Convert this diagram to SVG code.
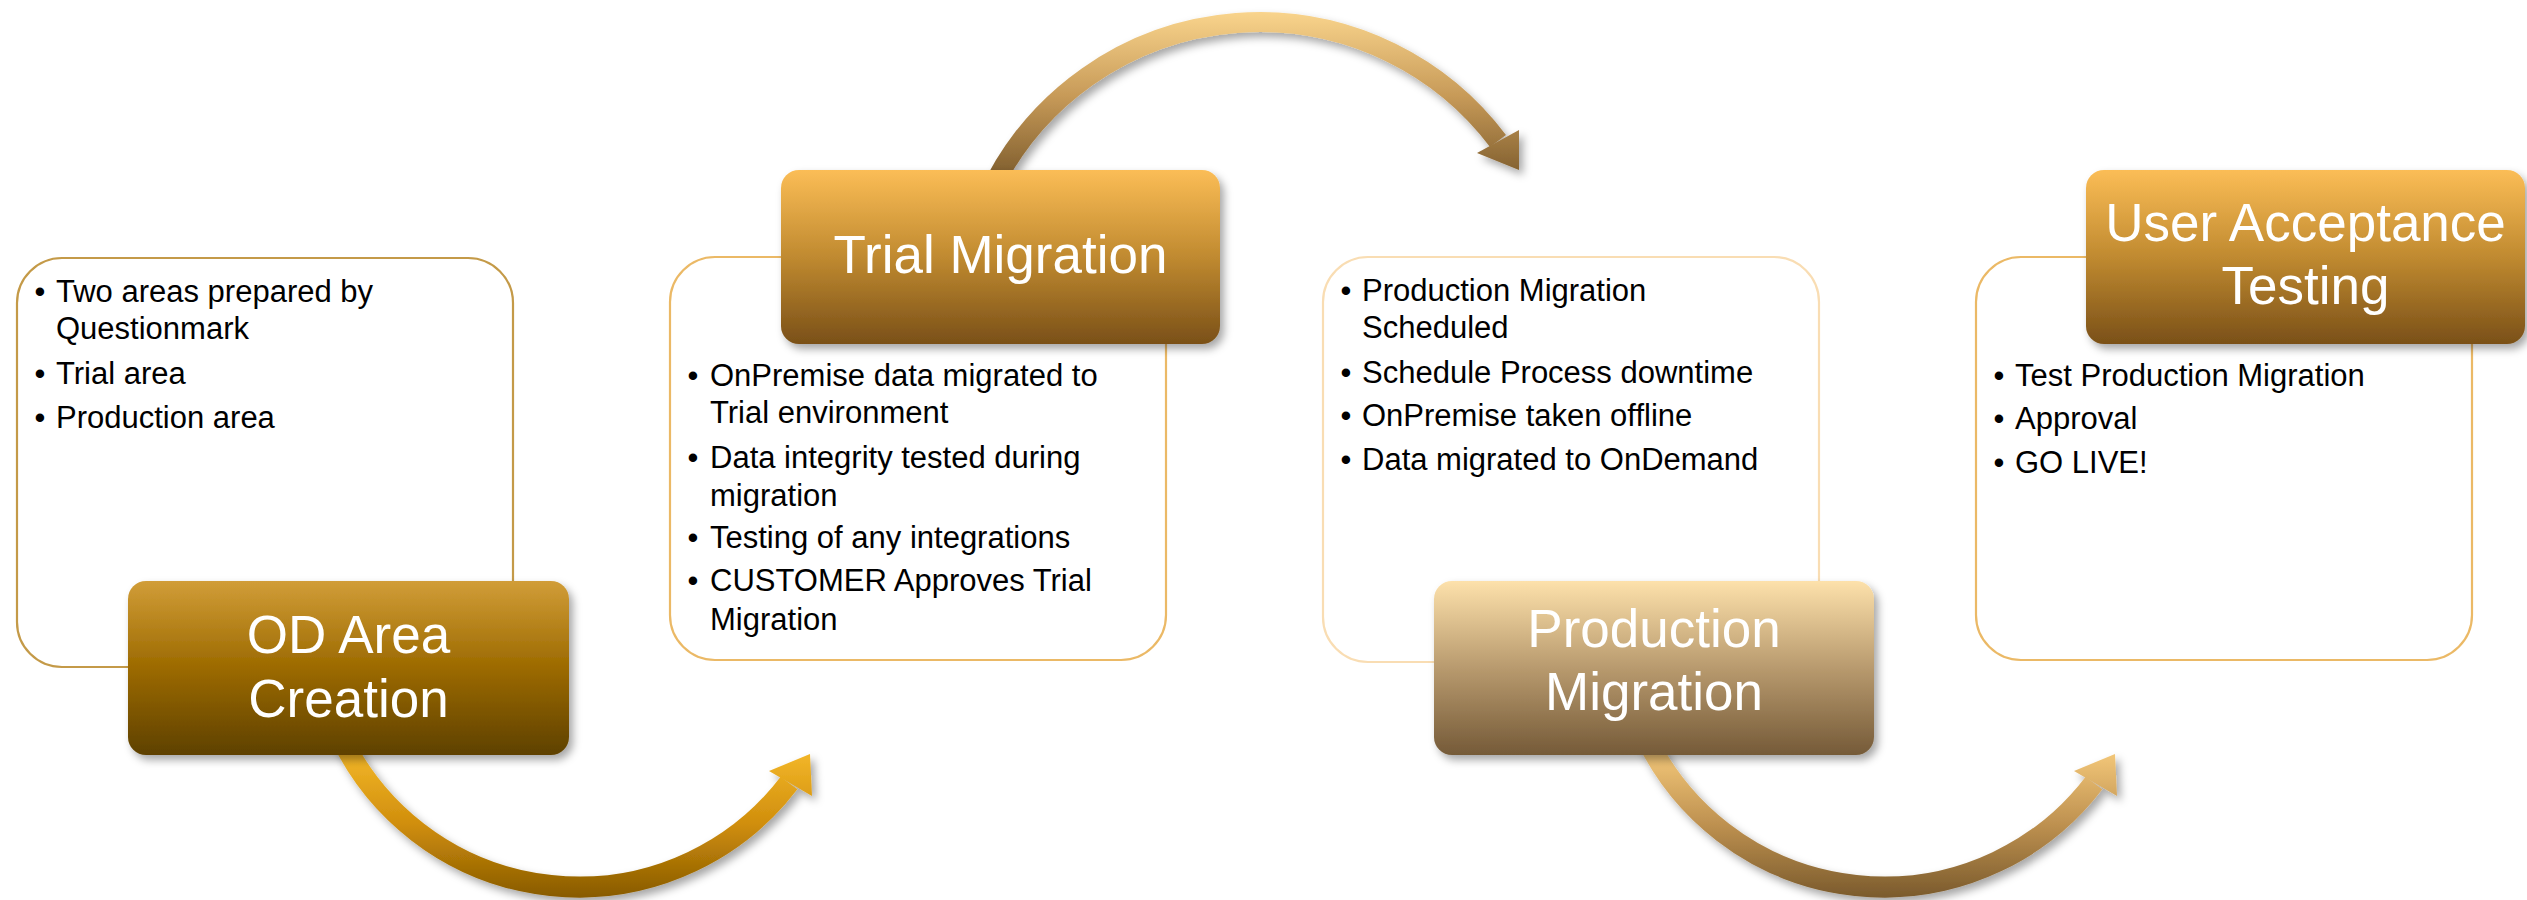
<svg xmlns="http://www.w3.org/2000/svg" width="2527" height="900" viewBox="0 0 2527 900">
<defs>
<style>
.body{font-family:"Liberation Sans",Arial,sans-serif;font-size:31px;fill:#000}
.bul{font-family:"Liberation Sans",Arial,sans-serif;font-size:31px;fill:#000;text-anchor:middle}
.title{font-family:"Liberation Sans",Arial,sans-serif;font-size:53px;fill:#fff;text-anchor:middle}
.panel{fill:#fff;stroke-width:2.2}
.band{fill:none}
</style>
<filter id="sh" x="-10%" y="-10%" width="130%" height="140%">
<feDropShadow dx="4" dy="5" stdDeviation="4" flood-color="#000" flood-opacity="0.35"/>
</filter>
<linearGradient id="gOD" x1="0" y1="0" x2="0" y2="1">
<stop offset="0" stop-color="#D19D38"/><stop offset="0.5" stop-color="#9C6A00"/><stop offset="1" stop-color="#5E4100"/>
</linearGradient>
<linearGradient id="gTR" x1="0" y1="0" x2="0" y2="1">
<stop offset="0" stop-color="#FBBD56"/><stop offset="0.5" stop-color="#C08A30"/><stop offset="1" stop-color="#7A5018"/>
</linearGradient>
<linearGradient id="gPR" x1="0" y1="0" x2="0" y2="1">
<stop offset="0" stop-color="#FDE1AB"/><stop offset="0.5" stop-color="#B89A6E"/><stop offset="1" stop-color="#755A38"/>
</linearGradient>
<linearGradient id="a1" gradientUnits="userSpaceOnUse" x1="0" y1="750" x2="0" y2="898">
<stop offset="0" stop-color="#F4B82A"/><stop offset="0.5" stop-color="#D08E0C"/><stop offset="1" stop-color="#875A00"/>
</linearGradient>
<linearGradient id="a2" gradientUnits="userSpaceOnUse" x1="0" y1="12" x2="0" y2="180">
<stop offset="0" stop-color="#F9D48C"/><stop offset="0.5" stop-color="#C79A58"/><stop offset="1" stop-color="#7C5B2C"/>
</linearGradient>
<linearGradient id="a3" gradientUnits="userSpaceOnUse" x1="0" y1="750" x2="0" y2="898">
<stop offset="0" stop-color="#F5C97A"/><stop offset="0.5" stop-color="#BE9150"/><stop offset="1" stop-color="#7A5A2C"/>
</linearGradient>
</defs>
<rect width="2527" height="900" fill="#fff"/>

<g id="connectors" filter="url(#sh)">
<g id="arrow1">
<path class="band" d="M339.7,734.6 A264,264 0 0 0 789,783" stroke="url(#a1)" stroke-width="21"/>
<polygon points="769,771 810,754 812,796" fill="url(#a1)"/>
</g>
<g id="arrow2">
<path class="band" d="M995.9,180.4 A298.6,298.6 0 0 1 1498,141" stroke="url(#a2)" stroke-width="20"/>
<polygon points="1477,153 1519,170 1519,130" fill="url(#a2)"/>
</g>
<g id="arrow3">
<path class="band" d="M1644.7,734.6 A264,264 0 0 0 2094,783" stroke="url(#a3)" stroke-width="21"/>
<polygon points="2074,771 2115,754 2117,796" fill="url(#a3)"/>
</g>
</g>

<g id="node-od-area-creation">
<rect class="panel" x="17" y="258" width="496" height="409" rx="45" stroke="#C49A48"/>
<text class="bul" x="40" y="302">•</text><text class="body" x="56" y="302">Two areas prepared by</text>
<text class="body" x="56" y="339">Questionmark</text>
<text class="bul" x="40" y="384">•</text><text class="body" x="56" y="384">Trial area</text>
<text class="bul" x="40" y="428">•</text><text class="body" x="56" y="428">Production area</text>
<rect x="128" y="581" width="441" height="174" rx="18" fill="url(#gOD)" filter="url(#sh)"/>
<text class="title" x="348.5" y="653">OD Area</text>
<text class="title" x="348.5" y="717">Creation</text>
</g>

<g id="node-trial-migration">
<rect class="panel" x="670" y="257" width="496" height="403" rx="45" stroke="#EBB966"/>
<text class="bul" x="693" y="386">•</text><text class="body" x="710" y="386">OnPremise data migrated to</text>
<text class="body" x="710" y="423">Trial environment</text>
<text class="bul" x="693" y="468">•</text><text class="body" x="710" y="468">Data integrity tested during</text>
<text class="body" x="710" y="506">migration</text>
<text class="bul" x="693" y="548">•</text><text class="body" x="710" y="548">Testing of any integrations</text>
<text class="bul" x="693" y="591">•</text><text class="body" x="710" y="591">CUSTOMER Approves Trial</text>
<text class="body" x="710" y="630">Migration</text>
<rect x="781" y="170" width="439" height="174" rx="18" fill="url(#gTR)" filter="url(#sh)"/>
<text class="title" x="1000.5" y="273">Trial Migration</text>
</g>

<g id="node-production-migration">
<rect class="panel" x="1323" y="257" width="496" height="405" rx="45" stroke="#F9DDB3"/>
<text class="bul" x="1346" y="301">•</text><text class="body" x="1362" y="301">Production Migration</text>
<text class="body" x="1362" y="338">Scheduled</text>
<text class="bul" x="1346" y="383">•</text><text class="body" x="1362" y="383">Schedule Process downtime</text>
<text class="bul" x="1346" y="426">•</text><text class="body" x="1362" y="426">OnPremise taken offline</text>
<text class="bul" x="1346" y="470">•</text><text class="body" x="1362" y="470">Data migrated to OnDemand</text>
<rect x="1434" y="581" width="440" height="174" rx="18" fill="url(#gPR)" filter="url(#sh)"/>
<text class="title" x="1654" y="647">Production</text>
<text class="title" x="1654" y="710">Migration</text>
</g>

<g id="node-user-acceptance-testing">
<rect class="panel" x="1976" y="257" width="496" height="403" rx="45" stroke="#EBB966"/>
<text class="bul" x="1999" y="386">•</text><text class="body" x="2015" y="386">Test Production Migration</text>
<text class="bul" x="1999" y="429">•</text><text class="body" x="2015" y="429">Approval</text>
<text class="bul" x="1999" y="473">•</text><text class="body" x="2015" y="473">GO LIVE!</text>
<rect x="2086" y="170" width="439" height="174" rx="18" fill="url(#gTR)" filter="url(#sh)"/>
<text class="title" x="2305.5" y="241">User Acceptance</text>
<text class="title" x="2305.5" y="304">Testing</text>
</g>
</svg>
